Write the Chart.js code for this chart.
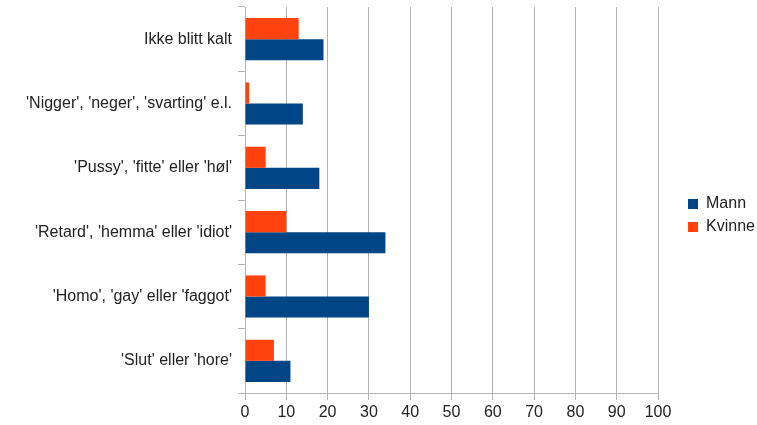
<!DOCTYPE html>
<html>
<head>
<meta charset="utf-8">
<script src="https://cdn.jsdelivr.net/npm/chart.js@4"></script>
<style>
  body { margin: 0; background: #fff; }
</style>
</head>
<body>
<canvas id="chart" width="757" height="425"></canvas>
<script>
// kategorier (ovenfra og ned)
const categories = [
    'Ikke blitt kalt',
    "'Nigger', 'neger', 'svarting' e.l.",
    "'Pussy', 'fitte' eller 'høl'",
    "'Retard', 'hemma' eller 'idiot'",
    "'Homo', 'gay' eller 'faggot'",
    "'Slut' eller 'hore'"
];
const kvinne = [13, 1, 5, 10, 5, 7];
const mann = [19, 14, 18, 34, 30, 11];
const xTicks = [0, 10, 20, 30, 40, 50, 60, 70, 80, 90, 100];

const gridColor = '#b3b3b3';
const textColor = '#222';
Chart.defaults.font.family = '"Liberation Sans", Arial, sans-serif';
Chart.defaults.font.size = 16;
Chart.defaults.color = textColor;

// legenden skal ligge litt lenger til høyre enn plottet
const legendShift = {
    id: 'legendShift',
    beforeInit(chart) {
        const fit = chart.legend.fit;
        chart.legend.fit = function () {
            fit.call(this);
            this.width = 99;
        };
    },
    afterLayout(chart) {
        chart.legend.left += 23;
        chart.legend.top += 3;
        chart.legend.bottom += 3;
    }
};

new Chart(document.getElementById('chart').getContext('2d'), {
    type: 'bar',
    data: {
        labels: categories,
        datasets: [
            { label: 'Kvinne', data: kvinne, backgroundColor: '#ff420e', borderWidth: 0 },
            { label: 'Mann', data: mann, backgroundColor: '#004586', borderWidth: 0 }
        ]
    },
    options: {
        indexAxis: 'y',
        responsive: false,
        animation: false,
        layout: { padding: { top: 0, bottom: 0, left: 0, right: 0 } },
        datasets: { bar: { categoryPercentage: 0.655, barPercentage: 1 } },
        plugins: {
            legend: {
                position: 'right',
                reverse: true,
                labels: { boxWidth: 10, boxHeight: 10, padding: 7, color: textColor }
            },
            tooltip: { enabled: false }
        },
        scales: {
            x: {
                min: 0,
                max: 100,
                afterBuildTicks(scale) {
                    scale.ticks = xTicks.map(v => ({ value: v }));
                },
                afterFit(scale) { scale.height = 32; },
                grid: { color: gridColor, tickLength: 7 },
                border: { color: gridColor },
                ticks: { padding: 3, color: textColor }
            },
            y: {
                afterFit(scale) {
                    scale.width = 245;
                    scale.paddingTop = 7;
                    scale.paddingBottom = 0;
                },
                grid: { drawOnChartArea: false, tickLength: 7, color: gridColor },
                border: { color: gridColor },
                ticks: { padding: 6, color: textColor }
            }
        }
    },
    plugins: [legendShift]
});
</script>
</body>
</html>
